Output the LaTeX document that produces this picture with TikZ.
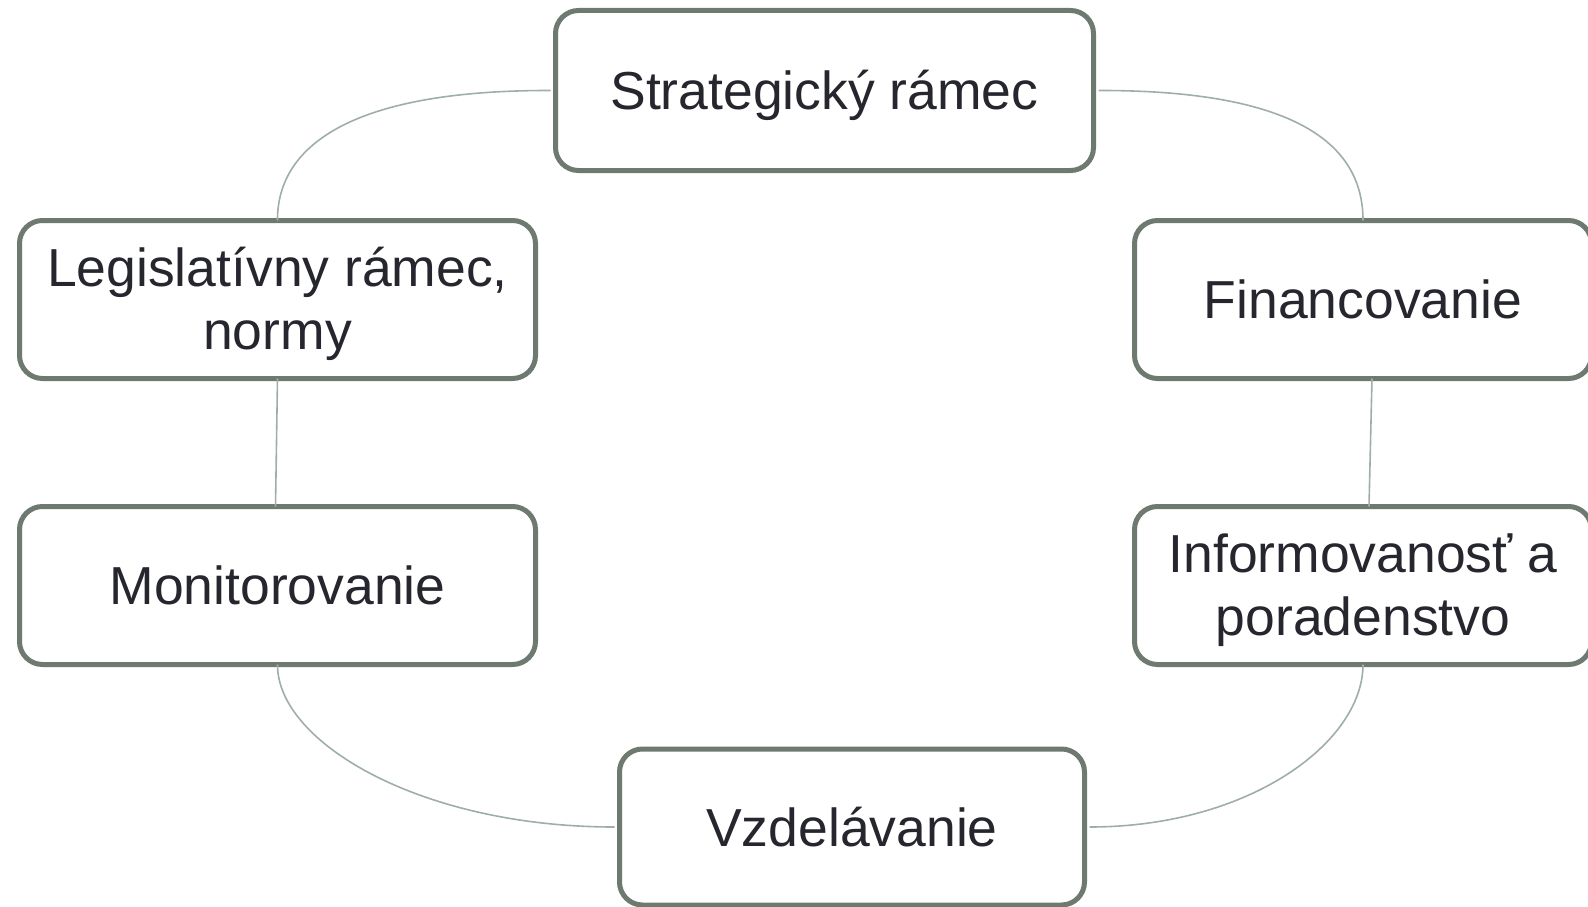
\documentclass[tikz,border=0pt]{standalone}
\usepackage{fontspec}
\setmainfont{Liberation Sans}
\definecolor{boxline}{HTML}{6E7A70}
\definecolor{conn}{HTML}{9FAFA6}
\definecolor{txt}{HTML}{26262F}
\begin{document}
\begin{tikzpicture}[x=1pt,y=-1pt,
  cbox/.style={draw=boxline, line width=5pt, rounded corners=23pt, fill=white,
    text=txt, font=\fontsize{53.5}{63}\selectfont, align=center, inner sep=0pt,
    text height=38pt, text depth=0pt},
  twoline/.style={text height=100pt, text depth=0pt},
  conline/.style={draw=conn, line width=1.6pt}]
\useasboundingbox (0,0) rectangle (1588,907);
\clip (0,0) rectangle (1588,907);
\node[cbox, minimum width=538pt, minimum height=160pt] (S) at (824.5,90.5) {Strategický rámec};
\node[cbox, twoline, minimum width=516pt, minimum height=158pt] (L) at (277.5,299.5) {Legislatívny rámec,\\normy};
\node[cbox, minimum width=457pt, minimum height=158pt] (F) at (1363,299.5) {Financovanie};
\node[cbox, minimum width=516pt, minimum height=158pt] (M) at (277.5,585.5) {Monitorovanie};
\node[cbox, twoline, minimum width=457pt, minimum height=158pt] (I) at (1363,585.5) {Informovanosť a\\poradenstvo};
\node[cbox, minimum width=465pt, minimum height=156pt] (V) at (852,827) {Vzdelávanie};
\draw[conline] ([xshift=-2.5pt]S.west) .. controls (335,90) and (277,155) .. ([yshift=-2.5pt]L.north);
\draw[conline] ([xshift=2.5pt]S.east) .. controls (1314,90) and (1363,155) .. ([yshift=-2.5pt]F.north);
\draw[conline] ([yshift=2.5pt]L.south) -- ([xshift=-2pt,yshift=-2.5pt]M.north);
\draw[conline] ([xshift=9pt,yshift=2.5pt]F.south) -- ([xshift=6pt,yshift=-2.5pt]I.north);
\draw[conline] ([yshift=2.5pt]M.south) .. controls (277,742) and (420,827) .. ([xshift=-2.5pt]V.west);
\draw[conline] ([yshift=2.5pt]I.south) .. controls (1363,742) and (1250,827) .. ([xshift=2.5pt]V.east);
\end{tikzpicture}
\end{document}
